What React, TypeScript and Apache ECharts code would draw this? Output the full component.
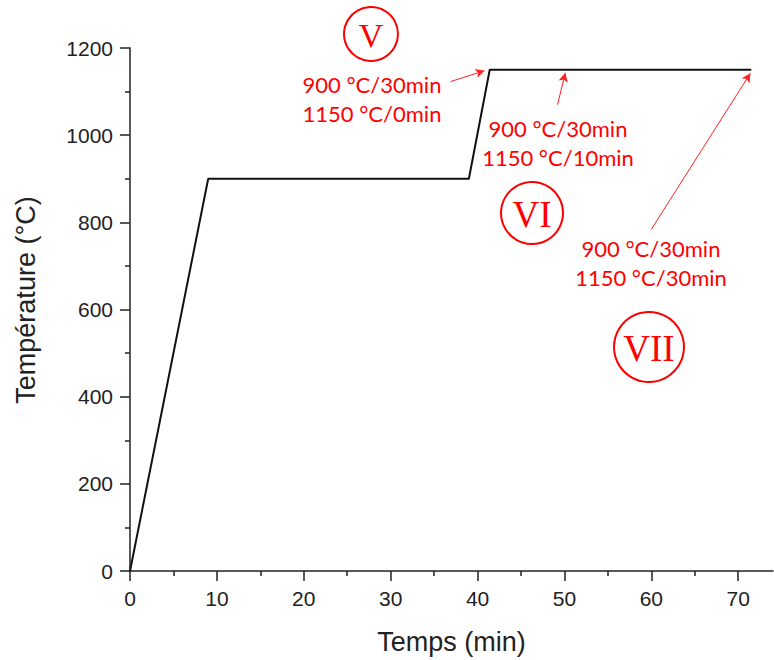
import React, { useEffect, useRef } from "react";
import * as echarts from "echarts";

const timeMin = [0, 9, 39, 41.4, 71.5];
const tempC = [0, 900, 900, 1150, 1150];

const xMajorTicks = [0, 10, 20, 30, 40, 50, 60, 70];
const xMinorTicks = [5, 15, 25, 35, 45, 55, 65];

// arrows: [fromX, fromY] -> [toX, toY] in data units
const arrowFrom = [
  [36.9, 1123],
  [49.2, 1070],
  [60.0, 784],
];
const arrowTo = [
  [40.8, 1148],
  [50.1, 1143],
  [71.4, 1142],
];

const noteTexts = [
  "900 °C/30min\n1150 °C/0min",
  "900 °C/30min\n1150 °C/10min",
  "900 °C/30min\n1150 °C/30min",
];
const romanLabels = ["V", "VI", "VII"];

export default function App() {
  const ref = useRef<HTMLDivElement>(null);
  useEffect(() => {
    if (!ref.current) return;
    const chart = echarts.init(ref.current, null, { renderer: "svg" });
    const red = "#ff0000";
    const notePos = [
      [372, 99],
      [558, 143],
      [651, 263],
    ];
    const circlePos = [
      [371, 34, 27, 34],
      [532, 213, 31, 37],
      [649, 347, 35, 37],
    ];
    const graphic: any[] = [];
    noteTexts.forEach((t, i) => {
      graphic.push({
        type: "text",
        x: notePos[i][0],
        y: notePos[i][1],
        style: {
          text: t,
          fill: red,
          font: "22px Lato",
          lineHeight: 29,
          align: "center",
          verticalAlign: "middle",
        },
      });
    });
    romanLabels.forEach((t, i) => {
      const [cx, cy, r, fs] = circlePos[i];
      graphic.push({
        type: "circle",
        shape: { cx, cy, r },
        style: { fill: "none", stroke: red, lineWidth: 2 },
      });
      graphic.push({
        type: "text",
        x: cx,
        y: cy + 1,
        style: {
          text: t,
          fill: red,
          font: `${fs}px "Liberation Serif"`,
          align: "center",
          verticalAlign: "middle",
        },
      });
    });

    const axisFont = { fontFamily: "Liberation Sans", color: "#222" };
    chart.setOption({
      animation: false,
      grid: { left: 130, right: 1, top: 48, bottom: 87, containLabel: false },
      xAxis: [
        {
          type: "value",
          min: 0,
          max: 74,
          position: "bottom",
          name: "Temps (min)",
          nameLocation: "middle",
          nameGap: 57,
          nameTextStyle: { ...axisFont, fontSize: 27 },
          axisLine: { show: true, lineStyle: { color: "#222", width: 1.5 } },
          axisTick: {
            show: true,
            length: 10,
            customValues: xMajorTicks,
            lineStyle: { color: "#222", width: 1.5 },
          },
          axisLabel: {
            customValues: xMajorTicks,
            fontSize: 21,
            margin: 17,
            ...axisFont,
          },
          splitLine: { show: false },
        },
        {
          type: "value",
          min: 0,
          max: 74,
          position: "bottom",
          axisLine: { show: false },
          axisTick: {
            show: true,
            length: 5,
            customValues: xMinorTicks,
            lineStyle: { color: "#222", width: 1.5 },
          },
          axisLabel: { show: false },
          splitLine: { show: false },
        },
      ],
      yAxis: {
        type: "value",
        min: 0,
        max: 1200,
        interval: 200,
        name: "Température (°C)",
        nameLocation: "middle",
        nameGap: 91,
        nameTextStyle: { ...axisFont, fontSize: 27, padding: [0, 0, 0, 19] },
        axisLine: { show: true, lineStyle: { color: "#222", width: 1.5 } },
        axisTick: { show: true, length: 10, lineStyle: { color: "#222", width: 1.5 } },
        minorTick: { show: true, splitNumber: 2, length: 5, lineStyle: { color: "#222", width: 1.5 } },
        axisLabel: {
          fontSize: 21,
          margin: 17,
          ...axisFont,
          formatter: (v: number) => String(v),
        },
        splitLine: { show: false },
        minorSplitLine: { show: false },
      },
      series: [
        {
          type: "line",
          xAxisIndex: 0,
          data: timeMin.map((t, i) => [t, tempC[i]]),
          showSymbol: false,
          lineStyle: { color: "#111", width: 2 },
          itemStyle: { color: "#111" },
        },
        {
          type: "line",
          xAxisIndex: 0,
          data: [],
          markLine: {
            silent: true,
            symbol: ["none", "arrow"],
            symbolSize: [7, 9],
            label: { show: false },
            lineStyle: { color: "#ff2020", width: 1, type: "solid" },
            data: arrowFrom.map((f, i) => [
              { coord: f },
              { coord: arrowTo[i] },
            ]),
          },
        },
      ],
      graphic,
    });
    return () => chart.dispose();
  }, []);
  return (
    <div
      ref={ref}
      style={{ position: "fixed", left: 0, top: 0, width: 774, height: 660, background: "#fff" }}
    />
  );
}
